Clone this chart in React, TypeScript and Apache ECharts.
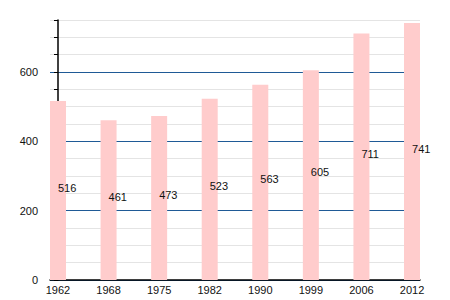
import React, { useEffect, useRef } from "react";
import * as echarts from "echarts";

const years = ["1962", "1968", "1975", "1982", "1990", "1999", "2006", "2012"];
const population = [516, 461, 473, 523, 563, 605, 711, 741];
const yLabelValues = [0, 200, 400, 600];

export default function App() {
  const ref = useRef<HTMLDivElement>(null);
  useEffect(() => {
    if (!ref.current) return;
    const chart = echarts.init(ref.current, null, { renderer: "svg" });
    chart.setOption({
      animation: false,
      backgroundColor: "#ffffff",
      grid: { left: 50, right: 30, top: 20, bottom: 20, containLabel: false },
      xAxis: {
        type: "value",
        min: -0.158,
        max: 7.158,
        axisLine: { show: true, onZero: false, lineStyle: { color: "#000", width: 1.5 } },
        axisTick: { show: false },
        splitLine: { show: false },
        axisLabel: {
          customValues: years.map((_, i) => i),
          formatter: (v: number) => years[Math.round(v)] ?? "",
          color: "#111",
          fontSize: 11,
          fontFamily: "Liberation Sans, Arial, sans-serif",
          margin: 4,
        },
      },
      yAxis: {
        type: "value",
        min: 0,
        max: 750,
        interval: 50,
        axisLine: { show: true, lineStyle: { color: "#000", width: 1.5 } },
        axisTick: { show: true, length: 4, lineStyle: { color: "#000" } },
        axisLabel: {
          formatter: (v: number) => (yLabelValues.includes(v) ? String(v) : ""),
          color: "#111",
          fontSize: 11,
          fontFamily: "Liberation Sans, Arial, sans-serif",
          margin: 12,
        },
        splitLine: {
          show: true,
          lineStyle: { color: ["#1f5a96", "#e4e4e4", "#e4e4e4", "#e4e4e4"], width: 1 },
        },
      },
      series: [
        {
          type: "bar",
          barWidth: 16,
          data: population.map((v, i) => [i, v]),
          itemStyle: { color: "#ffcccc" },
          label: {
            show: true,
            position: "inside",
            align: "left",
            offset: [0, -3],
            formatter: (p: any) => String(p.value[1]),
            color: "#111",
            fontSize: 11,
            fontFamily: "Liberation Sans, Arial, sans-serif",
          },
        },
      ],
    });
    return () => chart.dispose();
  }, []);
  return (
    <div
      ref={ref}
      style={{ position: "absolute", left: 0, top: 0, width: 450, height: 300 }}
    />
  );
}
